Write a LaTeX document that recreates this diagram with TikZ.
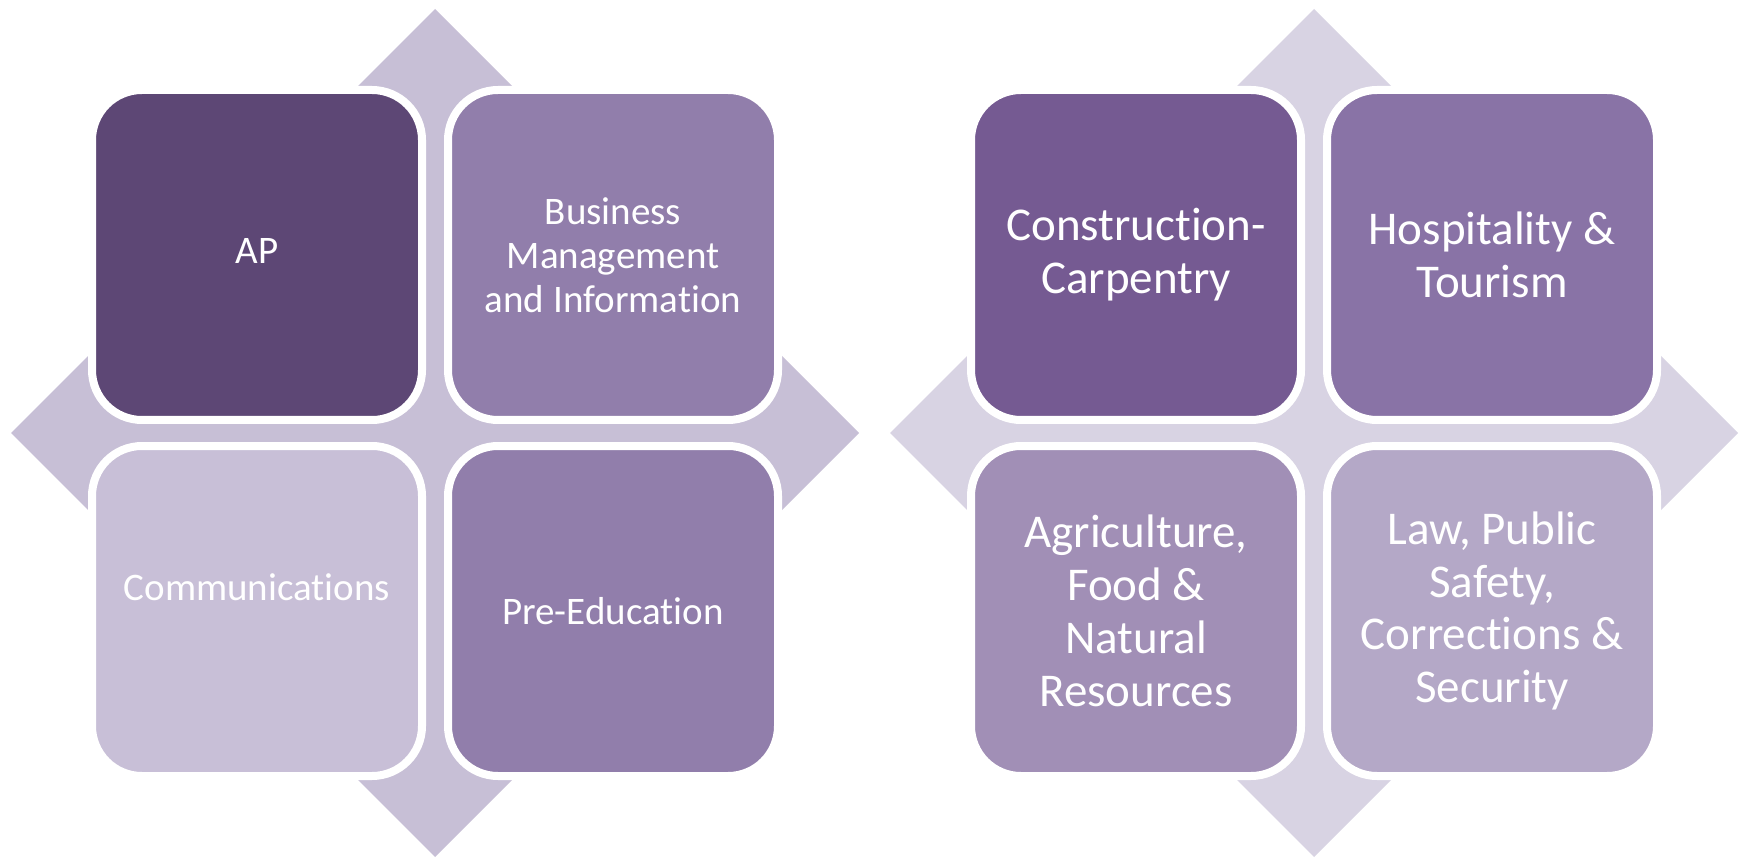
\documentclass[tikz,border=0pt]{standalone}
\usepackage{fontspec}
\setmainfont{Carlito}[Ligatures={NoCommon}]
\definecolor{diaL}{HTML}{C7BFD6}
\definecolor{diaR}{HTML}{D8D3E3}
\definecolor{cAP}{HTML}{5D4775}
\definecolor{cBus}{HTML}{917EAB}
\definecolor{cCom}{HTML}{C8BFD7}
\definecolor{cPre}{HTML}{917EAB}
\definecolor{cCon}{HTML}{755A92}
\definecolor{cHos}{HTML}{8973A6}
\definecolor{cAgr}{HTML}{A18FB6}
\definecolor{cLaw}{HTML}{B4A8C7}
\tikzset{
  quadbox/.style={draw=white, line width=4pt, rounded corners=25pt, minimum width=165pt, minimum height=165pt, inner sep=0pt},
  txtL/.style={text=white, align=center, font=\fontsize{19.5}{22}\selectfont},
  txtR/.style={text=white, align=center, font=\fontsize{23.5}{26.4}\selectfont},
}
\begin{document}
\begin{tikzpicture}[x=0.5pt,y=-0.5pt]
\useasboundingbox (0,0) rectangle (1748,860);
% left diagram
\fill[diaL] (435,9) -- (859,433) -- (435,857) -- (11,433) -- cycle;
\node[quadbox, fill=cAP] (ap) at (257,255) {};
\node[quadbox, fill=cBus] (bus) at (613,255) {};
\node[quadbox, fill=cCom] (com) at (257,611) {};
\node[quadbox, fill=cPre] (pre) at (613,611) {};
\node[txtL] (t-ap) at ([yshift=2pt]ap.center) {AP};
\node[txtL] (t-bus) at (bus.center) {Business\\Management\\and Information};
\node[txtL] (t-com) at ([yshift=12pt]com.center) {Communications};
\node[txtL] (t-pre) at (pre.center) {Pre-Education};
% right diagram
\fill[diaR] (1314,9) -- (1738,433) -- (1314,857) -- (890,433) -- cycle;
\node[quadbox, fill=cCon] (con) at (1136,255) {};
\node[quadbox, fill=cHos] (hos) at (1492,255) {};
\node[quadbox, fill=cAgr] (agr) at (1136,611) {};
\node[quadbox, fill=cLaw] (law) at (1492,611) {};
\node[txtR] (t-con) at (con.center) {Construction-\\Carpentry};
\node[txtR] (t-hos) at (hos.center) {Hospitality \&\\Tourism};
\node[txtR] (t-agr) at (agr.center) {Agriculture,\\Food \&\\Natural\\Resources};
\node[txtR] (t-law) at (law.center) {Law, Public\\Safety,\\Corrections \&\\Security};
\end{tikzpicture}
\end{document}
